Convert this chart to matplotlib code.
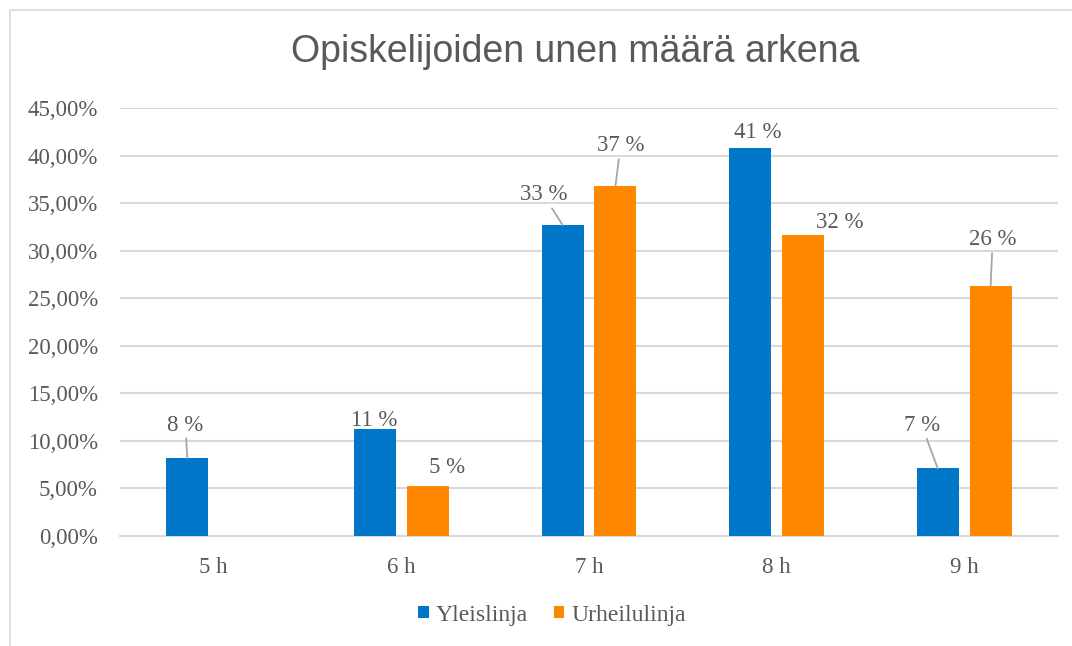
import numpy as np
import matplotlib
matplotlib.use("Agg")
import matplotlib.pyplot as plt
from matplotlib.patches import Patch, Rectangle
from matplotlib.ticker import FuncFormatter

# data
categories = ['5 h', '6 h', '7 h', '8 h', '9 h']
yleislinja = [8.2, 11.2, 32.7, 40.8, 7.1]
urheilulinja = [0.0, 5.3, 36.8, 31.6, 26.3]
series_names = ['Yleislinja', 'Urheilulinja']

# label placement (pixel offsets from bar top centre), None = no label
blue_offsets = [(-2, 33), (-1, 9), (-19, 30), (8, 15), (-16, 43)]
orange_offsets = [None, (19, 18), (5, 40), (37, 13), (2, 46)]

blue = '#0077C8'
orange = '#FF8800'
grey_text = '#595959'
grid_col = '#D9D9D9'

W, H = 1072, 646
fig = plt.figure(figsize=(W / 100, H / 100), dpi=100)
ax = fig.add_axes([120 / W, 1 - 536 / H, (1058 - 120) / W, (536 - 108) / H])

# chart frame (only left and top edge are visible in the crop)
fig.add_artist(Rectangle((10 / W, -0.5), 2, 1.5 - 10 / H, transform=fig.transFigure,
                         fill=False, edgecolor='#D9D9D9', linewidth=1.2))

x = np.arange(len(categories))
width = 0.224
off = 0.141
b1 = ax.bar(x - off, [v / 100 for v in yleislinja], width, color=blue, zorder=3)
b2 = ax.bar(x + off, [v / 100 for v in urheilulinja], width, color=orange, zorder=3)

ax.set_xlim(-0.5, len(categories) - 0.5)
ax.set_ylim(0, 0.45)
ax.set_yticks(np.arange(0, 0.451, 0.05))
ax.yaxis.set_major_formatter(FuncFormatter(lambda v, p: f'{v * 100:.2f}%'.replace('.', ',')))
ax.set_xticks(x)
ax.set_xticklabels(categories)

serif = 'Liberation Serif'
for lab in ax.get_xticklabels() + ax.get_yticklabels():
    lab.set_fontfamily(serif)
    lab.set_fontsize(16.5)
    lab.set_color(grey_text)
ax.tick_params(axis='both', length=0)
ax.tick_params(axis='y', pad=16)
ax.tick_params(axis='x', pad=15)

ax.grid(axis='y', color=grid_col, linewidth=1.5, zorder=0)
for s in ['left', 'right', 'top']:
    ax.spines[s].set_visible(False)
ax.spines['bottom'].set_color(grid_col)
ax.spines['bottom'].set_linewidth(1.5)
ax.spines['bottom'].set_zorder(1)


def label_bars(bars, values, offsets):
    for bar, v, o in zip(bars, values, offsets):
        if o is None:
            continue
        dx, dy = o
        arrow = None
        if dy > 25:
            arrow = dict(arrowstyle='-', color='#A6A6A6', lw=1.3, shrinkA=0, shrinkB=0)
        ax.annotate(f'{round(v):d} %', xy=(bar.get_x() + bar.get_width() / 2, bar.get_height()),
                    xytext=(dx, dy), textcoords='offset pixels', ha='center', va='center',
                    fontfamily=serif, fontsize=16.5, color=grey_text,
                    arrowprops=arrow, zorder=4)


label_bars(b1, yleislinja, blue_offsets)
label_bars(b2, urheilulinja, orange_offsets)

fig.text(575 / W, 1 - 52 / H, 'Opiskelijoiden unen määrä arkena', ha='center', va='center',
         fontfamily='Liberation Sans', fontsize=27, color=grey_text)

handles = [Patch(facecolor=blue), Patch(facecolor=orange)]
leg = fig.legend(handles, series_names, loc='center', bbox_to_anchor=(552 / W, 1 - 615 / H),
                 ncol=2, frameon=False, handlelength=0.45, handleheight=0.45,
                 handletextpad=0.3, columnspacing=1.1,
                 prop={'family': serif, 'size': 17})
for t in leg.get_texts():
    t.set_color(grey_text)

fig.savefig('out.png', dpi=100, facecolor='white')
